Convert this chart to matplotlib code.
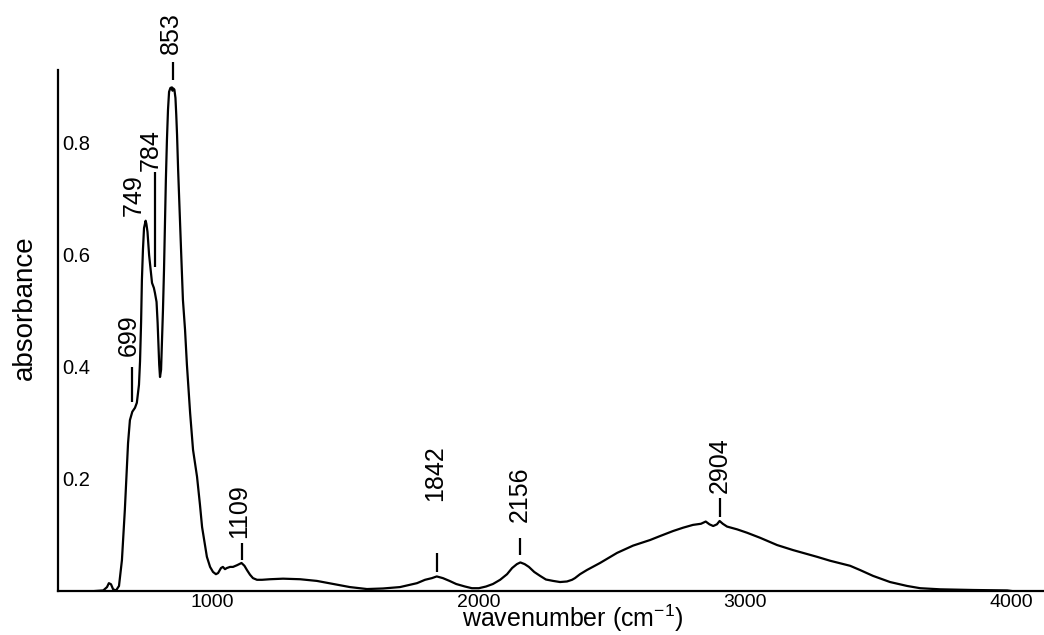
import matplotlib
matplotlib.use("Agg")
import matplotlib.pyplot as plt
from matplotlib.transforms import offset_copy

plt.rcParams["font.family"] = ["Liberation Sans", "DejaVu Sans"]
plt.rcParams["mathtext.fontset"] = "custom"
plt.rcParams["mathtext.rm"] = "Liberation Sans"
plt.rcParams["mathtext.it"] = "Liberation Sans:italic"

# IR spectrum: wavenumber (cm-1) and absorbance
wavenumber = [
    560, 590, 604, 611, 619, 627, 638, 649, 660, 671, 683, 690, 699, 709, 716,
    724, 728, 732, 735, 739, 743, 749, 752, 756, 762, 773, 780, 784, 790, 794,
    797, 800, 803, 807, 810, 814, 818, 822, 825, 829, 833, 837, 842, 848, 850,
    853, 857, 861, 864, 867, 871, 878, 882, 886, 889, 897, 904, 916, 927, 942,
    953, 961, 972, 979, 991, 1002, 1013, 1021, 1032, 1039, 1047, 1054, 1066,
    1077, 1092, 1109, 1120, 1130, 1141, 1152, 1167, 1186, 1216, 1265, 1329,
    1392, 1453, 1516, 1580, 1640, 1704, 1741, 1768, 1798, 1824, 1842, 1865,
    1890, 1915, 1948, 1974, 2000, 2027, 2053, 2080, 2106, 2125, 2143, 2156,
    2172, 2188, 2208, 2230, 2252, 2279, 2305, 2331, 2350, 2361, 2380, 2406,
    2455, 2519, 2579, 2643, 2680, 2729, 2767, 2804, 2834, 2852, 2866, 2880,
    2894, 2904, 2916, 2932, 2970, 3007, 3056, 3120, 3180, 3232, 3270, 3319,
    3394, 3431, 3480, 3544, 3608, 3657, 3732, 3856, 3984, 4000,
]
absorbance = [
    0.000, 0.001, 0.007, 0.014, 0.012, 0.003, 0.001, 0.009, 0.055, 0.145,
    0.264, 0.305, 0.320, 0.327, 0.336, 0.368, 0.410, 0.480, 0.555, 0.610,
    0.648, 0.661, 0.655, 0.641, 0.600, 0.550, 0.541, 0.532, 0.516, 0.479,
    0.440, 0.404, 0.382, 0.395, 0.440, 0.500, 0.573, 0.663, 0.734, 0.805,
    0.859, 0.891, 0.898, 0.899, 0.893, 0.897, 0.895, 0.880, 0.850, 0.814,
    0.752, 0.663, 0.609, 0.555, 0.520, 0.466, 0.404, 0.318, 0.252, 0.204,
    0.154, 0.114, 0.082, 0.061, 0.043, 0.034, 0.030, 0.032, 0.041, 0.043,
    0.039, 0.041, 0.043, 0.043, 0.046, 0.050, 0.045, 0.037, 0.029, 0.023,
    0.020, 0.020, 0.021, 0.022, 0.021, 0.018, 0.0125, 0.007, 0.0035, 0.0045,
    0.007, 0.011, 0.014, 0.020, 0.023, 0.026, 0.023, 0.018, 0.0125, 0.008,
    0.005, 0.005, 0.008, 0.0125, 0.020, 0.030, 0.041, 0.048, 0.051, 0.048,
    0.043, 0.034, 0.027, 0.0205, 0.018, 0.016, 0.017, 0.020, 0.023, 0.030,
    0.0375, 0.050, 0.068, 0.081, 0.091, 0.098, 0.107, 0.113, 0.118, 0.120,
    0.124, 0.119, 0.116, 0.119, 0.125, 0.120, 0.115, 0.110, 0.104, 0.095,
    0.082, 0.073, 0.066, 0.061, 0.054, 0.045, 0.0375, 0.027, 0.016, 0.009,
    0.005, 0.003, 0.0018, 0.001, 0.000,
]

# Peak annotations
peak_labels = ["699", "749", "784", "853", "1109", "1842", "2156", "2904"]
peak_positions = [699, 749, 784, 853, 1109, 1842, 2156, 2904]

# marker line (bottom, top) and label centre height, in absorbance units;
# label horizontal shift in pixels
marker_spans = [(0.3375, 0.40), None, (0.579, 0.748), (0.9125, 0.945),
                (0.0554, 0.0857), (0.034, 0.068), (0.064, 0.0946), (0.132, 0.166)]
label_heights = [0.457, 0.707, 0.7875, 0.996, 0.143, 0.211, 0.173, 0.225]
label_shift_px = [-4, -12, -4, -2, -2, -2, -1, 0]

y_ticks = [0.2, 0.4, 0.6, 0.8]
x_ticks = [1000, 2000, 3000, 4000]

W, H = 1044, 635
fig = plt.figure(figsize=(W / 100, H / 100), dpi=100)
ax = fig.add_axes([58 / W, 44 / H, 986 / W, 521 / H])

ax.plot(wavenumber, absorbance, color="black", lw=1.6, solid_joinstyle="round")

ax.set_xlim(420, 4122)
ax.set_ylim(0, 0.93)

for s in ("top", "right"):
    ax.spines[s].set_visible(False)
for s in ("left", "bottom"):
    ax.spines[s].set_linewidth(1.6)

ax.set_xticks(x_ticks)
ax.set_xticklabels([str(t) for t in x_ticks])
ax.set_yticks(y_ticks)
ax.set_yticklabels([f"{t:.1f}" for t in y_ticks])
ax.tick_params(axis="x", length=0, pad=2.5, labelsize=14)
ax.tick_params(axis="y", length=0, pad=-3, labelsize=14.5)
for lab in ax.get_yticklabels():
    lab.set_horizontalalignment("left")

for lab, pos, span, h, dx in zip(peak_labels, peak_positions, marker_spans,
                                  label_heights, label_shift_px):
    if span is not None:
        ax.plot([pos, pos], list(span), color="black", lw=1.6,
                solid_capstyle="butt", clip_on=False)
    tr = offset_copy(ax.transData, fig=fig, x=dx, y=0, units="dots")
    ax.text(pos, h, lab, rotation=90, ha="center", va="center",
            fontsize=18, transform=tr, clip_on=False)

fig.text(25 / W, 1 - 308 / H, "absorbance", rotation=90, ha="center",
         va="center", fontsize=20)
fig.text(573 / W, 0.5 / H, r"wavenumber (cm$^{-1}$)", ha="center",
         va="bottom", fontsize=18)

fig.savefig("out.png", dpi=100)
